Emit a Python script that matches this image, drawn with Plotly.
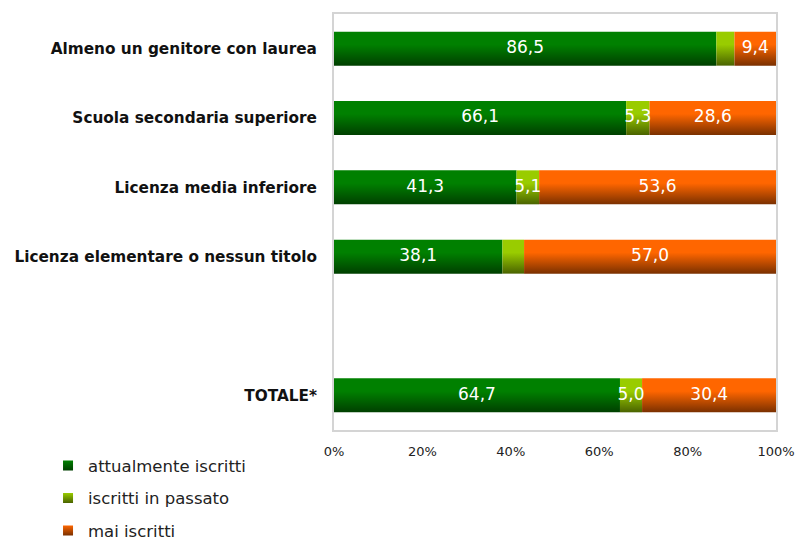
import plotly.graph_objects as go

categories = ["Almeno un genitore con laurea", "Scuola secondaria superiore",
              "Licenza media inferiore", "Licenza elementare o nessun titolo",
              "", "TOTALE*"]
attualmente = [86.5, 66.1, 41.3, 38.1, None, 64.7]
passato = [4.1, 5.3, 5.1, 4.9, None, 5.0]
mai = [9.4, 28.6, 53.6, 57.0, None, 30.4]
show_label_passato = [False, True, True, False, False, True]

series = [
    ("attualmente iscritti", attualmente, "#008000", "#003f00", [True] * 6),
    ("iscritti in passato", passato, "#99cc00", "#4a6300", show_label_passato),
    ("mai iscritti", mai, "#ff6600", "#7a3000", [True] * 6),
]

fig = go.Figure()
half = 0.245
bases = [0.0] * len(categories)
text_traces = []
for si, (name, vals, light, dark, showlab) in enumerate(series):
    tx, ty, tt = [], [], []
    for i, v in enumerate(vals):
        if v is None:
            continue
        b = bases[i]
        fig.add_trace(go.Scatter(
            x=[b, b + v, b + v, b, b],
            y=[i - half, i - half, i + half, i + half, i - half],
            mode="lines", line=dict(width=0), fill="toself",
            fillgradient=dict(type="vertical",
                              colorscale=[[0, dark], [0.62, light], [1, light]]),
            fillcolor=light, name=name, showlegend=False, hoverinfo="skip"))
        if showlab[i]:
            tx.append(b + v / 2)
            ty.append(i)
            tt.append(f"{v:.1f}".replace(".", ","))
        bases[i] = b + v
    text_traces.append(go.Scatter(
        x=tx, y=ty, text=tt, mode="text", showlegend=False, hoverinfo="skip",
        cliponaxis=False,
        textfont=dict(color="white", size=17, family="DejaVu Sans")))
    # legend entry
    fig.add_trace(go.Scatter(
        x=[None], y=[None], mode="markers", name=name, legendgroup=name,
        marker=dict(symbol="square", size=10, color=light,
                    gradient=dict(type="vertical", color=dark))))
for t in text_traces:
    fig.add_trace(t)

fig.update_layout(
    width=795, height=542,
    margin=dict(l=334, r=19, t=14, b=112, autoexpand=False),
    paper_bgcolor="white", plot_bgcolor="white",
    font=dict(family="DejaVu Sans", color="#111"),
    legend=dict(x=-0.647, xanchor="left", y=-0.044, yanchor="top",
                font=dict(size=16.5, color="#222"), tracegroupgap=8,
                bgcolor="rgba(0,0,0,0)"),
    xaxis=dict(range=[0, 100], tickvals=[0, 20, 40, 60, 80, 100],
               ticktext=["0%", "20%", "40%", "60%", "80%", "100%"],
               showgrid=False, zeroline=False, showline=True, mirror=True,
               linecolor="#d4d4d4", linewidth=2, ticks="", automargin=False,
               tickfont=dict(size=13, color="#222"), ticklabelstandoff=8,
               ticklabeloverflow="allow"),
    yaxis=dict(range=[5.5, -0.5], tickvals=list(range(len(categories))),
               ticktext=categories, showgrid=False, zeroline=False,
               showline=True, mirror=True, linecolor="#d4d4d4", linewidth=2,
               ticks="", automargin=False,
               tickfont=dict(size=15.3, color="#111", weight="bold"),
               ticklabelstandoff=12),
)

fig.write_html(
    "out.html",
    config={"displayModeBar": False},
    post_script="document.body.style.margin='0';"
                "document.body.style.overflow='hidden';",
)
